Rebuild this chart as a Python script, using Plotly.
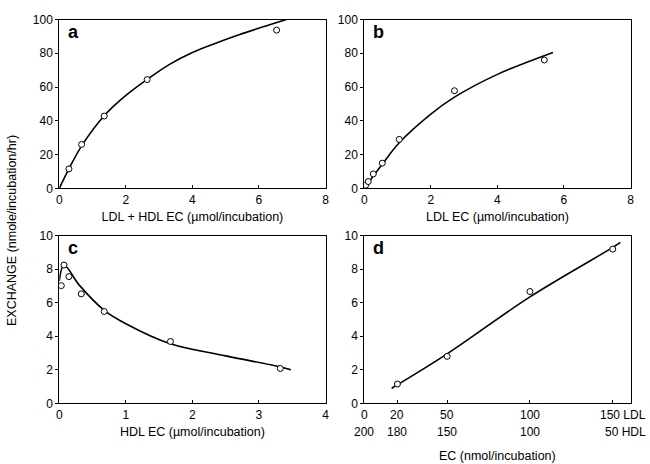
import plotly.graph_objects as go

# ---- data ----
# panel a: LDL + HDL EC
a_pts_x = [0.29, 0.67, 1.35, 2.64, 6.53]
a_pts_y = [11.5, 26.0, 42.8, 64.4, 93.7]
a_fit_x = [0, 0.3, 0.7, 1.35, 2.0, 2.64, 3.3, 4.0, 4.7, 5.4, 6.1, 6.83]
a_fit_y = [0, 12.0, 26.0, 43.0, 55.0, 64.5, 73.3, 80.5, 86.0, 91.0, 95.5, 100.0]

# panel b: LDL EC
b_pts_x = [0.04, 0.12, 0.27, 0.54, 1.05, 2.71, 5.41]
b_pts_y = [1.8, 4.0, 8.5, 14.9, 29.0, 57.8, 76.0]
b_fit_x = [0, 0.55, 1.05, 2.0, 2.71, 4.0, 5.67]
b_fit_y = [0, 14.5, 27.0, 44.0, 54.0, 67.5, 80.5]

# panel c: HDL EC
c_pts_x = [0.03, 0.07, 0.145, 0.33, 0.675, 1.67, 3.32]
c_pts_y = [7.02, 8.25, 7.56, 6.53, 5.48, 3.69, 2.08]
c_fit_x = [0, 0.07, 0.3, 0.675, 1.0, 1.67, 2.5, 3.32, 3.48]
c_fit_y = [7.3, 8.25, 7.05, 5.55, 4.75, 3.55, 2.83, 2.17, 2.0]

# panel d: EC mixtures (LDL nmol; HDL = 200 - LDL)
d_pts_x = [20, 50, 100, 150]
d_pts_y = [1.15, 2.8, 6.67, 9.2]
d_fit_x = [16.5, 50, 100, 150, 154.6]
d_fit_y = [0.9, 2.95, 6.35, 9.3, 9.6]
d_ldl_ticks = [0, 20, 50, 100, 150]
d_hdl_labels = ["200", "180", "150", "100", "50"]

panel_letters = ["a", "b", "c", "d"]
x_titles = ["LDL + HDL EC (µmol/incubation)", "LDL EC (µmol/incubation)",
            "HDL EC (µmol/incubation)", ""]
y_title = "EXCHANGE (nmole/incubation/hr)"
d_x_title = "EC (nmol/incubation)"

FONT = "Liberation Sans, Arial, sans-serif"
W, H = 650, 464

def px_x(v):
    return v / W

def px_y(v):
    return 1 - v / H

# domains in pixels
col_x = [(59.3, 325.5), (364.3, 630.5)]
row_y = [(19.5, 188.3), (235.7, 403.3)]

fig = go.Figure()

panels = [
    (a_pts_x, a_pts_y, a_fit_x, a_fit_y, [0, 8], [0, 100], [0, 2, 4, 6, 8], [0, 20, 40, 60, 80, 100]),
    (b_pts_x, b_pts_y, b_fit_x, b_fit_y, [0, 8], [0, 100], [0, 2, 4, 6, 8], [0, 20, 40, 60, 80, 100]),
    (c_pts_x, c_pts_y, c_fit_x, c_fit_y, [0, 4], [0, 10], [0, 1, 2, 3, 4], [0, 2, 4, 6, 8, 10]),
    (d_pts_x, d_pts_y, d_fit_x, d_fit_y, [0, 160.7], [0, 10], d_ldl_ticks, [0, 2, 4, 6, 8, 10]),
]

layout = dict(
    width=W, height=H,
    margin=dict(l=0, r=0, t=0, b=0, autoexpand=False),
    paper_bgcolor="white", plot_bgcolor="white",
    showlegend=False,
    font=dict(family=FONT, size=12, color="black"),
)

annotations = []
for i, (px_, py_, fx, fy, xr, yr, xt, yt) in enumerate(panels):
    n = i + 1
    xa = "x" if n == 1 else f"x{n}"
    ya = "y" if n == 1 else f"y{n}"
    fig.add_trace(go.Scatter(x=fx, y=fy, mode="lines", xaxis=xa, yaxis=ya,
                             line=dict(color="black", width=1.6, shape="spline", smoothing=1.0),
                             hoverinfo="skip"))
    fig.add_trace(go.Scatter(x=px_, y=py_, mode="markers", xaxis=xa, yaxis=ya,
                             marker=dict(symbol="circle", size=6, color="white",
                                         line=dict(color="black", width=1))))
    c = i % 2
    r = i // 2
    xd = [px_x(col_x[c][0]), px_x(col_x[c][1])]
    yd = [px_y(row_y[r][1]), px_y(row_y[r][0])]
    xkey = "xaxis" if n == 1 else f"xaxis{n}"
    ykey = "yaxis" if n == 1 else f"yaxis{n}"
    layout[xkey] = dict(
        domain=xd, anchor=ya, range=xr, tickvals=xt,
        showticklabels=(n != 4), automargin=False,
        ticks="inside", ticklen=3, tickcolor="black",
        showline=True, linecolor="black", linewidth=1, mirror=True,
        showgrid=False, zeroline=False, fixedrange=True,
        tickfont=dict(size=12, family=FONT, color="black"),
        title=dict(text=x_titles[i], font=dict(size=12.5, family=FONT, color="black"),
                   standoff=6),
    )
    layout[ykey] = dict(
        domain=yd, anchor=xa, range=yr, tickvals=yt, automargin=False,
        ticks="outside", ticklen=3, tickcolor="black",
        showline=True, linecolor="black", linewidth=1, mirror=True,
        showgrid=False, zeroline=False, fixedrange=True,
        tickfont=dict(size=12, family=FONT, color="black"),
    )
    # panel letter
    annotations.append(dict(
        text=f"<b>{panel_letters[i]}</b>", xref="paper", yref="paper",
        x=px_x(col_x[c][0] + 7), y=px_y(row_y[r][0] + 12),
        xanchor="left", yanchor="middle", showarrow=False,
        font=dict(size=18, family=FONT, color="black"),
    ))

# panel d two-row tick labels
for k, (ldl, hdl) in enumerate(zip(d_ldl_ticks, d_hdl_labels)):
    last = k == len(d_ldl_ticks) - 1
    t1 = f"{ldl} LDL" if last else f"{ldl}"
    t2 = f"{hdl} HDL" if last else hdl
    for txt, yy in ((t1, 415), (t2, 432)):
        if last:
            annotations.append(dict(text=txt, xref="paper", yref="paper",
                                    x=px_x(648), y=px_y(yy), xanchor="right",
                                    yanchor="middle", showarrow=False,
                                    font=dict(size=12, family=FONT, color="black")))
        else:
            annotations.append(dict(text=txt, xref="x4", yref="paper",
                                    x=ldl, y=px_y(yy), xanchor="center",
                                    yanchor="middle", showarrow=False,
                                    font=dict(size=12, family=FONT, color="black")))

annotations.append(dict(text=d_x_title, xref="paper", yref="paper",
                        x=px_x(497), y=px_y(456), xanchor="center", yanchor="middle",
                        showarrow=False, font=dict(size=12.5, family=FONT, color="black")))
annotations.append(dict(text=y_title, xref="paper", yref="paper",
                        x=px_x(12), y=px_y(231), xanchor="center", yanchor="middle",
                        textangle=-90, showarrow=False,
                        font=dict(size=12.5, family=FONT, color="black")))

layout["annotations"] = annotations
fig.update_layout(**layout)
fig.write_html("out.html", config={"displayModeBar": False},
               post_script="document.body.style.margin='0';document.body.style.overflow='hidden';")
